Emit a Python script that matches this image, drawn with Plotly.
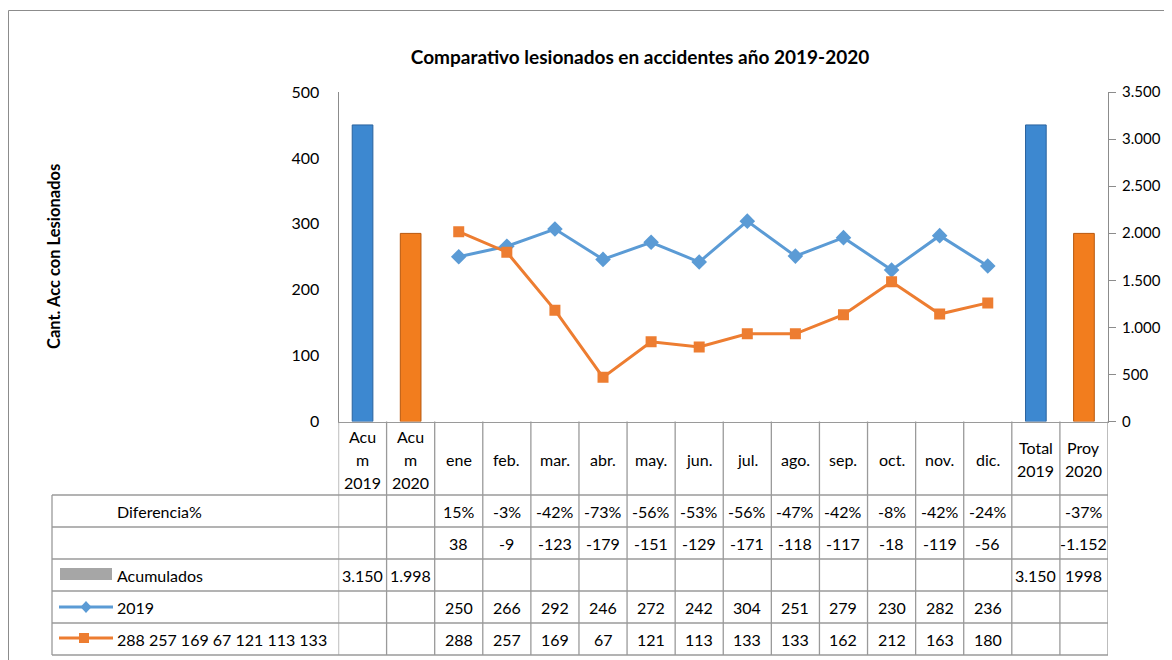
import plotly.graph_objects as go

# Datos del gráfico
categorias = ["Acum 2019", "Acum 2020", "ene", "feb.", "mar.", "abr.", "may.", "jun.",
              "jul.", "ago.", "sep.", "oct.", "nov.", "dic.", "Total 2019", "Proy 2020"]
etiquetas = ["Acu\nm\n2019", "Acu\nm\n2020", "ene", "feb.", "mar.", "abr.", "may.", "jun.",
             "jul.", "ago.", "sep.", "oct.", "nov.", "dic.", "Total\n2019", "Proy\n2020"]
meses = categorias[2:14]

serie_2019 = [250, 266, 292, 246, 272, 242, 304, 251, 279, 230, 282, 236]
serie_2020 = [288, 257, 169, 67, 121, 113, 133, 133, 162, 212, 163, 180]

acum_2019 = 3150
acum_2020 = 1998

diferencia_pct = ["", "", "15%", "-3%", "-42%", "-73%", "-56%", "-53%", "-56%", "-47%",
                  "-42%", "-8%", "-42%", "-24%", "", "-37%"]
diferencia_abs = ["", "", "38", "-9", "-123", "-179", "-151", "-129", "-171", "-118",
                  "-117", "-18", "-119", "-56", "", "-1.152"]
acumulados_txt = ["3.150", "1.998"] + [""] * 12 + ["3.150", "1998"]

nombre_2020 = "288 257 169 67 121 113 133"

# Colores
AZUL = "#5B9BD5"
NARANJA = "#ED7D31"
GRIS = "#a6a6a6"
FUENTE = "Lato"

# Tamaño de la figura (para pasar de pixeles a coordenadas "paper")
# el navegador deja 8px de margen en el body, se compensa aqui
OFF = 8
W, H = 1172 - OFF, 660 - OFF
def px(x):
    return (x - OFF) / W
def py(y):
    return 1 - (y - OFF) / H

fig = go.Figure()

# Barras de acumulados (eje derecho)
fig.add_trace(go.Bar(x=[categorias[0], categorias[14]], y=[acum_2019, acum_2019],
                     yaxis="y2", width=0.43, name="Acumulados",
                     marker={"color": "#3d88d0", "line": {"color": "#2a639e", "width": 1}}))
fig.add_trace(go.Bar(x=[categorias[1], categorias[15]], y=[acum_2020, acum_2020],
                     yaxis="y2", width=0.43, name="Acumulados 2020",
                     marker={"color": "#f27d1e", "line": {"color": "#b8570c", "width": 1}}))

# Líneas mensuales (eje izquierdo)
fig.add_trace(go.Scatter(x=meses, y=serie_2019, mode="lines+markers", name="2019",
                         line={"color": AZUL, "width": 3},
                         marker={"symbol": "diamond", "size": 12, "color": AZUL}))
fig.add_trace(go.Scatter(x=meses, y=serie_2020, mode="lines+markers", name=nombre_2020,
                         line={"color": NARANJA, "width": 3},
                         marker={"symbol": "square", "size": 11, "color": NARANJA}))

shapes = []
annotations = []

# Filas de la tabla de datos
filas_y = [421.5, 495, 527, 559, 591, 623, 655]
linea_tabla = {"color": "#9a9a9a", "width": 1.3}

for i in range(len(categorias) + 1):
    shapes.append(dict(type="line", xref="x", yref="paper", x0=i - 0.5, x1=i - 0.5,
                       y0=py(filas_y[0]), y1=py(filas_y[-1]), line=linea_tabla))
for yy in filas_y[1:]:
    shapes.append(dict(type="line", xref="paper", yref="paper", x0=px(52), x1=px(1108),
                       y0=py(yy), y1=py(yy), line=linea_tabla))
shapes.append(dict(type="line", xref="paper", yref="paper", x0=px(52), x1=px(52),
                   y0=py(filas_y[1]), y1=py(filas_y[-1]), line=linea_tabla))

# Marco exterior
shapes.append(dict(type="line", xref="paper", yref="paper", x0=px(8.5), x1=1.01,
                   y0=py(10.5), y1=py(10.5), line={"color": "#8c8c8c", "width": 1}))
shapes.append(dict(type="line", xref="paper", yref="paper", x0=px(8.5), x1=px(8.5),
                   y0=py(10.5), y1=-0.01, line={"color": "#8c8c8c", "width": 1}))

# Claves de la leyenda dentro de la tabla
shapes.append(dict(type="rect", xref="paper", yref="paper", x0=px(60), x1=px(112),
                   y0=py(580), y1=py(568), fillcolor=GRIS, line={"width": 0}))
shapes.append(dict(type="line", xref="paper", yref="paper", x0=px(59), x1=px(113),
                   y0=py(607), y1=py(607), line={"color": AZUL, "width": 3}))
shapes.append(dict(type="path", xref="paper", yref="paper",
                   path="M %f %f L %f %f L %f %f L %f %f Z" % (px(86), py(601), px(91.5), py(607),
                                                             px(86), py(613), px(80.5), py(607)),
                   fillcolor=AZUL, line={"width": 0}))
shapes.append(dict(type="line", xref="paper", yref="paper", x0=px(59), x1=px(113),
                   y0=py(638), y1=py(638), line={"color": NARANJA, "width": 3}))
shapes.append(dict(type="rect", xref="paper", yref="paper", x0=px(79), x1=px(89),
                   y0=py(643), y1=py(633), fillcolor=NARANJA, line={"width": 0}))

texto = {"family": FUENTE, "size": 16, "color": "#000000"}

# Encabezados de columnas (varias líneas)
for cat, etq in zip(categorias, etiquetas):
    partes = etq.split("\n")
    n = len(partes)
    for k, parte in enumerate(partes):
        yc = 459 + (k - (n - 1) / 2) * 23
        annotations.append(dict(x=cat, xref="x", y=py(yc), yref="paper", text=parte,
                                showarrow=False, font=texto, xanchor="center", yanchor="middle"))

# Valores de la tabla
filas_txt = [diferencia_pct, diferencia_abs, acumulados_txt,
             [""] * 2 + [str(v) for v in serie_2019] + [""] * 2,
             [""] * 2 + [str(v) for v in serie_2020] + [""] * 2]
for r, fila in enumerate(filas_txt):
    yc = (filas_y[r + 1] + filas_y[r + 2]) / 2
    for cat, val in zip(categorias, fila):
        if val:
            annotations.append(dict(x=cat, xref="x", y=py(yc), yref="paper", text=val,
                                    showarrow=False, font=texto, xanchor="center", yanchor="middle"))

# Nombres de filas
nombres_filas = ["Diferencia%", "", "Acumulados", "2019", nombre_2020]
for r, nombre in enumerate(nombres_filas):
    if nombre:
        yc = (filas_y[r + 1] + filas_y[r + 2]) / 2
        annotations.append(dict(x=px(115), xref="paper", y=py(yc), yref="paper", text=nombre,
                                showarrow=False, font=texto, xanchor="left", yanchor="middle"))

# Título del eje izquierdo
annotations.append(dict(x=px(54), xref="paper", y=py(257), yref="paper",
                        text="<b>Cant. Acc con Lesionados</b>", textangle=-90, showarrow=False,
                        xanchor="center", yanchor="middle",
                        font={"family": FUENTE, "size": 16.5, "color": "#000000"}))

fig.update_layout(
    width=W, height=H,
    margin={"l": 0, "r": 0, "t": 0, "b": 0},
    paper_bgcolor="white", plot_bgcolor="white",
    separators=",.",
    showlegend=False,
    barmode="overlay",
    font={"family": FUENTE, "size": 16, "color": "#000000"},
    title={"text": "<b>Comparativo lesionados en accidentes año 2019-2020</b>",
           "x": px(640), "xanchor": "center", "y": py(57), "yanchor": "middle",
           "font": {"family": FUENTE, "size": 19, "color": "#000000"}},
    xaxis={"domain": [px(338.5), px(1108)], "type": "category", "automargin": False,
           "categoryorder": "array", "categoryarray": categorias,
           "range": [-0.5, len(categorias) - 0.5],
           "showticklabels": False, "showgrid": False, "zeroline": False,
           "showline": True, "linecolor": "#9a9a9a", "linewidth": 1.3, "ticks": ""},
    yaxis={"domain": [py(421.5), py(92)], "range": [0, 500], "dtick": 100, "automargin": False,
           "showgrid": False, "zeroline": False, "showline": True,
           "linecolor": "#8c8c8c", "linewidth": 1, "ticks": "",
           "tickfont": {"family": FUENTE, "size": 16}, "ticklabelstandoff": 15},
    yaxis2={"overlaying": "y", "side": "right", "range": [0, 3500], "dtick": 500,
            "automargin": False,
            "tickformat": ",d", "showgrid": False, "zeroline": False, "showline": True,
            "linecolor": "#8c8c8c", "linewidth": 1, "ticks": "outside", "ticklen": 7,
            "tickcolor": "#8c8c8c", "tickfont": {"family": FUENTE, "size": 15},
            "ticklabelstandoff": 3},
    shapes=shapes,
    annotations=annotations,
)

fig.write_html("out.html")
